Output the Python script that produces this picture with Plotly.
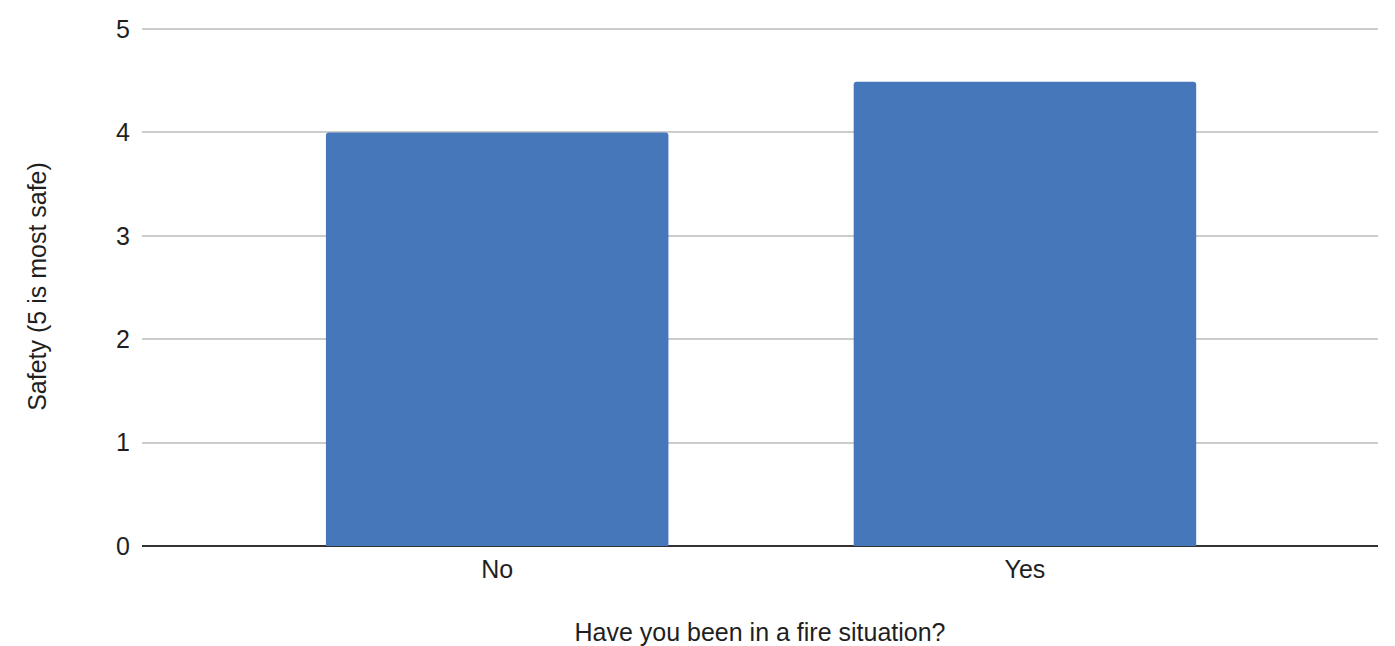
import plotly.graph_objects as go

categories = ["No", "Yes"]
values = [4.0, 4.49]
y_ticks = [0, 1, 2, 3, 4, 5]

fig = go.Figure(
    go.Bar(
        x=categories,
        y=values,
        marker=dict(color="#4677BB", line=dict(width=0), cornerradius=3),
        width=0.649,
    )
)

fs = 25
txt = "#1f1f1f"

fig.update_layout(
    width=1395,
    height=646,
    margin=dict(l=142, r=17, t=27, b=100),
    plot_bgcolor="white",
    paper_bgcolor="white",
    font=dict(family="Liberation Sans, Arial, sans-serif", size=fs, color=txt),
    showlegend=False,
    xaxis=dict(
        range=[-0.673, 1.669],
        automargin=False,
        showgrid=False,
        showline=False,
        ticks="",
        ticklabelstandoff=6,
        tickfont=dict(size=fs, color=txt),
        title=dict(text="Have you been in a fire situation?", font=dict(size=fs, color=txt), standoff=41),
    ),
    yaxis=dict(
        range=[0, 5.02],
        automargin=False,
        tickvals=y_ticks,
        showgrid=True,
        gridcolor="#cccccc",
        gridwidth=1.5,
        zeroline=True,
        zerolinecolor="#333333",
        zerolinewidth=2,
        ticks="",
        ticklabelstandoff=11,
        tickfont=dict(size=fs, color=txt),
        title=dict(text="Safety (5 is most safe)", font=dict(size=fs, color=txt), standoff=62),
    ),
)

fig.write_html("out.html")
